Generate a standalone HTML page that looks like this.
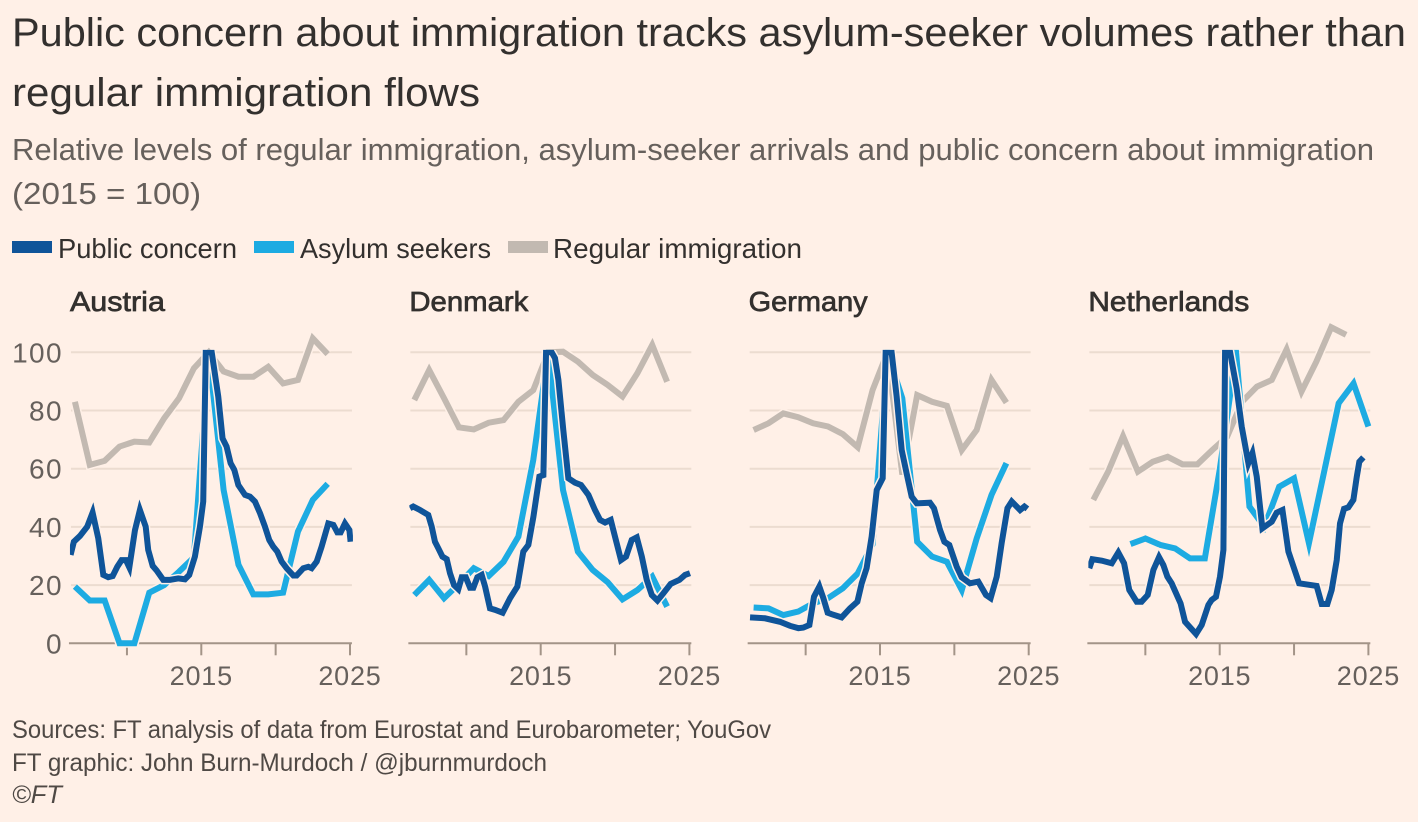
<!DOCTYPE html>
<html lang="en">
<head>
<meta charset="utf-8">
<title>Public concern about immigration tracks asylum-seeker volumes</title>
<style>
html,body{margin:0;padding:0;background:#fff0e7;}
svg{display:block;font-family:"Liberation Sans",sans-serif;}
</style>
</head>
<body>
<svg id="chart" xmlns="http://www.w3.org/2000/svg" width="1418" height="822" viewBox="0 0 1418 822">
  <rect width="1418" height="822" fill="#fff0e7"/>
  <g fill="#33302e" font-size="40">
    <text x="12" y="46" textLength="1394" lengthAdjust="spacingAndGlyphs">Public concern about immigration tracks asylum-seeker volumes rather than</text>
    <text x="12" y="106" textLength="468" lengthAdjust="spacingAndGlyphs">regular immigration flows</text>
  </g>
  <g fill="#66605c" font-size="31">
    <text x="12" y="160" textLength="1362" lengthAdjust="spacingAndGlyphs">Relative levels of regular immigration, asylum-seeker arrivals and public concern about immigration</text>
    <text x="12" y="204" textLength="189" lengthAdjust="spacingAndGlyphs">(2015 = 100)</text>
  </g>
  <g font-size="28" fill="#33302e">
    <g>
      <rect x="12" y="241" width="40" height="12" fill="#0f5499"/>
      <text x="58" y="258" textLength="179" lengthAdjust="spacingAndGlyphs">Public concern</text>
    </g>
    <g>
      <rect x="254" y="241" width="40" height="12" fill="#1dabe2"/>
      <text x="300" y="258" textLength="191" lengthAdjust="spacingAndGlyphs">Asylum seekers</text>
    </g>
    <g>
      <rect x="508" y="241" width="40" height="12" fill="#c2b9b1"/>
      <text x="553" y="258" textLength="249" lengthAdjust="spacingAndGlyphs">Regular immigration</text>
    </g>
  </g>
  <g id="panels"></g>
  <g fill="#4f4945" font-size="25">
    <text x="12" y="738" textLength="759" lengthAdjust="spacingAndGlyphs">Sources: FT analysis of data from Eurostat and Eurobarometer; YouGov</text>
    <text x="12" y="771" textLength="535" lengthAdjust="spacingAndGlyphs">FT graphic: John Burn-Murdoch / @jburnmurdoch</text>
    <text x="12" y="803" font-style="italic" textLength="50" lengthAdjust="spacingAndGlyphs">©FT</text>
  </g>
</svg>
<script>
const yTicks = [0, 20, 40, 60, 80, 100];
const xTicks = [2010, 2015, 2020, 2025];
const xLabels = [2015, 2025];
const countries = ["Austria", "Denmark", "Germany", "Netherlands"];

const annualYears = [2006.5,2007.5,2008.5,2009.5,2010.5,2011.5,2012.5,2013.5,2014.5,2015.5,2016.5,2017.5,2018.5,2019.5,2020.5,2021.5,2022.5,2023.5];
const nlAsylumYears = [2009,2010,2011,2012,2013,2014,2015,2016.1,2017,2018,2019,2020,2021,2022,2023,2024,2025];

const austriaRegular = [83,61.3,62.7,67.6,69.3,69,77.3,84.2,94.5,100,93.4,91.6,91.6,95,89.3,90.5,104.8,99.4];
const austriaAsylum = [19.5,14.7,14.7,0,0,17.4,20,24.6,29.5,100,52.7,27,16.8,16.8,17.4,38.4,49.3,54.8];
const austriaConcernYears = [2006.21,2006.43,2006.84,2007.33,2007.69,2008.07,2008.41,2008.74,2009.04,2009.35,2009.64,2009.93,2010.16,2010.54,2010.87,2011.26,2011.43,2011.73,2012,2012.44,2012.89,2013.45,2013.9,2014.19,2014.57,2014.91,2015.13,2015.3,2015.7,2016.14,2016.43,2016.7,2016.97,2017.22,2017.49,2017.94,2018.27,2018.61,2018.95,2019.28,2019.57,2019.84,2020.11,2020.4,2020.74,2021.19,2021.41,2021.86,2022.2,2022.42,2022.76,2023.09,2023.54,2023.88,2024.15,2024.37,2024.66,2024.96,2025.04];
const austriaConcern = [30.4,34.9,36.9,40.1,44.9,36.1,23.5,22.7,23.1,26.3,28.6,28.6,26.1,38.9,45.8,40.1,32.1,26.6,25,21.8,21.8,22.3,22,23.5,29.8,40.1,48.7,100,100,84.8,70.4,67.6,61.9,59.6,54.4,51,50.4,48.7,44.7,40.1,35.5,33.2,31.5,28.1,25.8,23.3,23.3,25.8,26.3,25.8,28.1,33.2,41.2,40.7,38.1,38.1,41.2,38.9,34.9];

const denmarkRegular = [83.6,93.9,84.2,74.2,73.5,75.8,76.7,83,87,100,100.2,96.8,92.2,88.8,84.8,92.8,102.5,89.9];
const denmarkAsylum = [16.6,21.8,15.5,20.4,25.8,23.1,28,36.7,63,100,52.7,31.5,25.2,21,15.1,18.3,22.9,12.6];
const denmarkConcernYears = [2006.21,2006.43,2006.88,2007.44,2007.67,2007.89,2008.12,2008.39,2008.68,2008.9,2009.17,2009.46,2009.69,2009.96,2010.25,2010.47,2010.74,2011.03,2011.26,2011.59,2011.93,2012.44,2012.94,2013.43,2013.83,2014.17,2014.51,2014.91,2015.18,2015.36,2015.74,2015.96,2016.19,2016.52,2016.86,2017.31,2017.71,2018.21,2018.65,2018.99,2019.33,2019.71,2020.11,2020.4,2020.74,2021.12,2021.46,2021.8,2022.13,2022.47,2022.85,2023.25,2023.74,2024.33,2024.71,2025.04];
const denmarkConcern = [46.4,47,45.8,44.1,40.1,34.9,32.6,29.8,28.9,24.1,20,18.6,22.7,22.7,19.1,19.1,22.7,23.5,19.5,12,11.5,10.5,15.5,19.5,31.5,33.8,43.5,57.3,57.8,100,100,98,90.5,73.3,56.7,55.2,54.4,51,45.8,42.4,41.5,42.4,34.4,28.6,29.8,35.5,36.4,29.8,21.8,16.6,14.7,17.2,20.4,21.8,23.5,24.1];

const germanyRegular = [73.3,75.6,79,77.7,75.6,74.5,71.9,67.4,87,100,58,85.3,83,81.6,66.4,73.3,90.5,82.7];
const germanyAsylum = [12.3,12,9.7,10.9,13.7,15.5,18.9,24,34,100,84.2,34.9,29.8,28,18.3,36,51,61.9];
const germanyConcernYears = [2006.26,2007.26,2008.27,2008.95,2009.51,2009.84,2010.25,2010.56,2010.92,2011.19,2011.48,2011.75,2012.42,2012.98,2013.48,2013.77,2014.1,2014.44,2014.78,2015.18,2015.38,2015.78,2016.12,2016.46,2016.79,2017.13,2017.47,2018.36,2018.63,2019.04,2019.33,2019.66,2020.16,2020.49,2021.05,2021.61,2022.13,2022.44,2022.85,2023.18,2023.57,2023.86,2024.42,2024.71,2024.91];
const germanyConcern = [8.9,8.6,7.4,6,5.2,5.4,6.3,16,19.5,15.5,10.5,10,8.9,12,14.3,20.6,25.8,36.7,52.7,56.7,100,100,84.8,66.4,58.4,50.4,48.1,48.3,46.4,38.9,34.9,33.8,26.3,22.7,20.6,21.2,16.6,15.5,22.9,34.4,46.4,48.7,45.8,47,46.2];

const netherlandsRegular = [49.3,59,71.2,59,62.4,64.1,61.5,61.5,66.4,71,83,88.2,90.5,101,86.5,96.8,108.6,106];
const netherlandsAsylum = [34.1,36,33.8,32.6,29.2,29.2,59.6,100,47,40,53.8,56.7,34.4,58.4,82.5,89.3,74.5];
const netherlandsConcernYears = [2006.23,2006.44,2007.07,2007.74,2008.18,2008.57,2008.92,2009.42,2009.75,2010.16,2010.54,2010.92,2011.21,2011.48,2011.77,2012.37,2012.67,2013.41,2013.79,2014.24,2014.46,2014.75,2015.02,2015.25,2015.36,2015.7,2016.14,2016.48,2016.93,2017.2,2017.49,2017.87,2018.5,2018.83,2019.22,2019.62,2020.34,2021.52,2021.86,2022.24,2022.53,2022.87,2023.09,2023.36,2023.65,2023.99,2024.22,2024.39,2024.66];
const netherlandsConcern = [25.8,28.9,28.4,27.5,31.2,27.5,18.3,14.3,14.3,16.6,25.2,29.6,26.9,22.9,20.6,13.7,7.4,3.2,6.3,13.2,14.9,16,22.9,32.1,100,100,87.6,74.5,61.9,65.3,57.3,39.5,41.8,44.9,45.8,31.5,20.6,19.7,13.5,13.5,18.3,28.6,41.2,46.2,46.7,49.3,57.3,62.4,63.9];

const regularByCountry = [austriaRegular, denmarkRegular, germanyRegular, netherlandsRegular];
const asylumByCountry = [austriaAsylum, denmarkAsylum, germanyAsylum, netherlandsAsylum];
const asylumYearsByCountry = [annualYears, annualYears, annualYears, nlAsylumYears];
const concernByCountry = [austriaConcern, denmarkConcern, germanyConcern, netherlandsConcern];
const concernYearsByCountry = [austriaConcernYears, denmarkConcernYears, germanyConcernYears, netherlandsConcernYears];

const NS = "http://www.w3.org/2000/svg";
const panelsRoot = document.getElementById("panels");
const BG = "#fff0e7";
const panelOrigin = [201.3, 540.7, 880, 1219.7];
const panelTitleWidth = [95, 119, 119, 161];
const pxPerYear = 14.87;
const y0 = 643.3;
const pxPerUnit = 2.91;
const LINE_W = 6;
const HALO_W = 9;

function yScale(v) { return y0 - v * pxPerUnit; }
function xScale(i, year) { return panelOrigin[i] + (year - 2015) * pxPerYear; }
function svgEl(tag, parent, attrs) {
  const el = document.createElementNS(NS, tag);
  for (const k in attrs) el.setAttribute(k, attrs[k]);
  parent.appendChild(el);
  return el;
}
function linePoints(i, years, values) {
  return values.map((v, k) => xScale(i, years[k]).toFixed(2) + "," + yScale(v).toFixed(2)).join(" ");
}

const defs = svgEl("defs", panelsRoot, {});
countries.forEach((name, i) => {
  const left = xScale(i, 2006.1), right = xScale(i, 2025.13);
  const clip = svgEl("clipPath", defs, { id: "clip-" + i });
  svgEl("rect", clip, { x: left + 1, y: yScale(100) - 2.4, width: right - left, height: y0 - yScale(100) + 20 });

  const g = svgEl("g", panelsRoot, {});
  
  

  const title = svgEl("text", g, { x: left + 1, y: 311, "font-size": 28, fill: "#33302e", stroke: "#33302e", "stroke-width": 0.7, textLength: panelTitleWidth[i], lengthAdjust: "spacingAndGlyphs" });
  
  
  title.textContent = name;

  yTicks.filter(t => t > 0).forEach(t => {
    const grid = svgEl("line", g, { x1: left + 2, x2: right, y1: yScale(t), y2: yScale(t), stroke: "#ecdcd0", "stroke-width": 2 });
    
    
  });

  if (i === 0) {
    yTicks.forEach(t => {
      const lab = svgEl("text", g, { x: 63, y: yScale(t) + 10, "text-anchor": "end", "font-size": 28, fill: "#66605c", "letter-spacing": 1.4 });
      
      
      lab.textContent = t;
    });
  }

  const axis = svgEl("line", g, { x1: left, x2: right, y1: y0, y2: y0, stroke: "#a39488", "stroke-width": 2 });
  
  

  xTicks.forEach(t => {
    const tick = svgEl("line", g, { x1: xScale(i, t), x2: xScale(i, t), y1: y0, y2: y0 + 12, stroke: "#a39488", "stroke-width": 2 });
    
    
  });
  xLabels.forEach(t => {
    const lab = svgEl("text", g, { x: xScale(i, t), y: 685, "text-anchor": "middle", "font-size": 27, fill: "#66605c", "letter-spacing": 0.8 });
    
    
    lab.textContent = t;
  });

  const regHalo = svgEl("polyline", g, { points: linePoints(i, annualYears, regularByCountry[i]), fill: "none", stroke: BG, "stroke-width": HALO_W });
  
  
  const reg = svgEl("polyline", g, { points: linePoints(i, annualYears, regularByCountry[i]), fill: "none", stroke: "#c2b9b1", "stroke-width": LINE_W, "stroke-linejoin": "miter" });
  
  

  const clipped = svgEl("g", g, { "clip-path": "url(#clip-" + i + ")" });
  
  

  const asyHalo = svgEl("polyline", clipped, { points: linePoints(i, asylumYearsByCountry[i], asylumByCountry[i]), fill: "none", stroke: BG, "stroke-width": HALO_W });
  
  
  const asy = svgEl("polyline", clipped, { points: linePoints(i, asylumYearsByCountry[i], asylumByCountry[i]), fill: "none", stroke: "#1dabe2", "stroke-width": LINE_W, "stroke-linejoin": "miter", "stroke-miterlimit": 10 });
  
  

  const conHalo = svgEl("polyline", clipped, { points: linePoints(i, concernYearsByCountry[i], concernByCountry[i]), fill: "none", stroke: BG, "stroke-width": HALO_W });
  
  
  const con = svgEl("polyline", clipped, { points: linePoints(i, concernYearsByCountry[i], concernByCountry[i]), fill: "none", stroke: "#0f5499", "stroke-width": LINE_W, "stroke-linejoin": "miter", "stroke-miterlimit": 10 });
  
  
});
</script>
</body>
</html>
